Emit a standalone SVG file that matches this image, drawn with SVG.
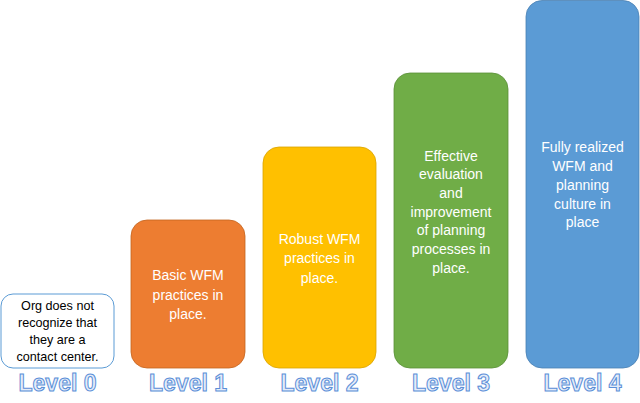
<svg xmlns="http://www.w3.org/2000/svg" width="640" height="403" viewBox="0 0 640 403">
<style>
.t{font-family:"Liberation Sans",Arial,sans-serif;font-size:14px;fill:#fff;text-anchor:middle}
.t0{font-family:"Liberation Sans",Arial,sans-serif;font-size:12.6px;fill:#000;text-anchor:middle}
.lv{font-family:"Liberation Sans",Arial,sans-serif;font-size:23px;font-weight:bold;fill:#e4ecf8;stroke:#5b8fd8;stroke-width:1;text-anchor:middle}
</style>
<rect width="640" height="403" fill="#fff"/>
<g id="level0">
<rect x="1" y="294" width="113" height="74" rx="12" fill="#fff" stroke="#5b9bd5" stroke-width="1"/>
<text class="t0" x="57.5" y="310">Org does not</text>
<text class="t0" x="57.5" y="327">recognize that</text>
<text class="t0" x="57.5" y="344">they are a</text>
<text class="t0" x="57.5" y="361">contact center.</text>
<text class="lv" x="57.5" y="391">Level 0</text>
</g>
<g id="level1">
<rect x="131" y="220" width="114" height="148" rx="16" fill="#ed7d31" stroke="#c3651f" stroke-width="0.8"/>
<text class="t" x="188" y="280">Basic WFM</text>
<text class="t" x="188" y="300">practices in</text>
<text class="t" x="188" y="319">place.</text>
<text class="lv" x="188" y="391">Level 1</text>
</g>
<g id="level2">
<rect x="263" y="147" width="113" height="221" rx="16" fill="#ffc000" stroke="#d9a300" stroke-width="0.8"/>
<text class="t" x="319.5" y="244">Robust WFM</text>
<text class="t" x="319.5" y="263">practices in</text>
<text class="t" x="319.5" y="283">place.</text>
<text class="lv" x="319.5" y="391">Level 2</text>
</g>
<g id="level3">
<rect x="394" y="73" width="114" height="295" rx="16" fill="#70ad47" stroke="#5a8f38" stroke-width="0.8"/>
<text class="t" x="451" y="161">Effective</text>
<text class="t" x="451" y="179">evaluation</text>
<text class="t" x="451" y="198">and</text>
<text class="t" x="451" y="217">improvement</text>
<text class="t" x="451" y="235">of planning</text>
<text class="t" x="451" y="254">processes in</text>
<text class="t" x="451" y="273">place.</text>
<text class="lv" x="451" y="391">Level 3</text>
</g>
<g id="level4">
<rect x="526" y="0.5" width="113" height="367.5" rx="16" fill="#5b9bd5" stroke="#4a80b3" stroke-width="0.8"/>
<text class="t" x="582.5" y="152">Fully realized</text>
<text class="t" x="582.5" y="171">WFM and</text>
<text class="t" x="582.5" y="190">planning</text>
<text class="t" x="582.5" y="209">culture in</text>
<text class="t" x="582.5" y="227">place</text>
<text class="lv" x="582.5" y="391">Level 4</text>
</g>
<g id="connectors"></g>
</svg>
